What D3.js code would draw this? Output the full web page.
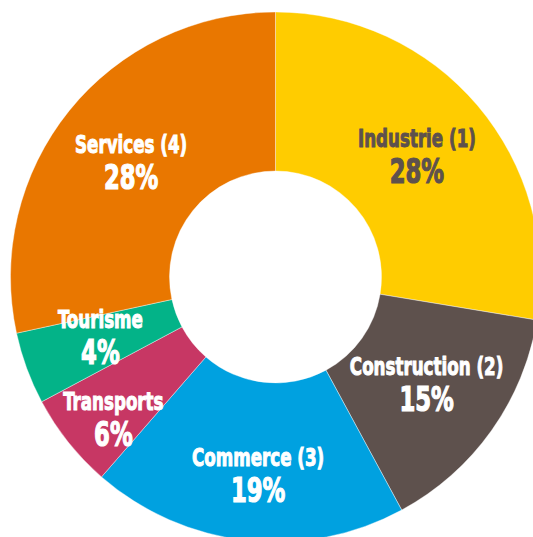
<!DOCTYPE html>
<html>
<head>
<meta charset="utf-8">
<script src="https://cdn.jsdelivr.net/npm/d3@7"></script>
<style>
  html, body { margin: 0; padding: 0; background: #fff; }
  svg { display: block; }
</style>
</head>
<body>
<div id="main"></div>
<script>
// secteurs, part en %, libelles affiches
const categories = ["Industrie (1)", "Construction (2)", "Commerce (3)", "Transports", "Tourisme", "Services (4)"];
const shares = [27.6, 14.5, 19.3, 5.8, 4.4, 28.4];
const pctLabels = ["28%", "15%", "19%", "6%", "4%", "28%"];

let width = 533, height = 537
let cx = 275.5, cy = 277
let rOuter = 265, rInner = 106

let color = d3.scaleOrdinal()
    .domain(categories)
    .range(["#FFCC00", "#5E514D", "#00A1E0", "#C73764", "#03B388", "#E97700"])

// some labels are pushed off the centroid in the original
let nudge = {
    "Commerce (3)": [3, 15],
    "Transports": [-17, 27],
    "Services (4)": [0, 2],
    "Tourisme": [-1, -3]
}

let svg = d3.select("#main").append("svg")
    .attr("width", width)
    .attr("height", height)

let g = svg.append("g")
    .attr("transform", `translate(${cx} ${cy})`)

let pie = d3.pie().sort(null).value(d => d)
let arcs = pie(shares)
let arc = d3.arc().innerRadius(rInner).outerRadius(rOuter)

g.selectAll("path").data(arcs).enter()
    .append("path")
    .attr("d", arc)
    .attr("fill", (d, i) => color(categories[i]))
    .attr("stroke", "#fff")
    .attr("stroke-width", 0.4)

let font = "'Liberation Sans Narrow', 'DejaVu Sans Condensed', 'Liberation Sans', sans-serif"

// condensed look: squeeze the text horizontally
let probe = svg.append("text")
    .attr("font-family", font).attr("font-weight", "bold").attr("font-size", 25)
    .text(categories[0])
let squeeze = 118 / probe.node().getComputedTextLength()
probe.remove()

let textColor = (d, i) => i === 0 ? "#5E514D" : "#fff"

let labels = g.selectAll("g.lbl").data(arcs).enter()
    .append("g")
    .attr("class", "lbl")
    .attr("transform", (d, i) => {
        let [x, y] = arc.centroid(d)
        let [dx, dy] = nudge[categories[i]] || [0, 0]
        return `translate(${x + dx} ${y + dy})`
    })

labels.append("text")
    .attr("transform", `translate(0 -10) scale(${squeeze} 1)`)
    .attr("text-anchor", "middle")
    .attr("font-family", font)
    .attr("font-weight", "bold")
    .attr("font-size", 25)
    .attr("fill", textColor)
    .attr("stroke", textColor)
    .attr("stroke-width", 1)
    .text((d, i) => categories[i])

labels.append("text")
    .attr("transform", `translate(0 26) scale(${squeeze} 1)`)
    .attr("text-anchor", "middle")
    .attr("font-family", font)
    .attr("font-weight", "bold")
    .attr("font-size", 34)
    .attr("fill", textColor)
    .attr("stroke", textColor)
    .attr("stroke-width", 1.2)
    .text((d, i) => pctLabels[i])
</script>
</body>
</html>
